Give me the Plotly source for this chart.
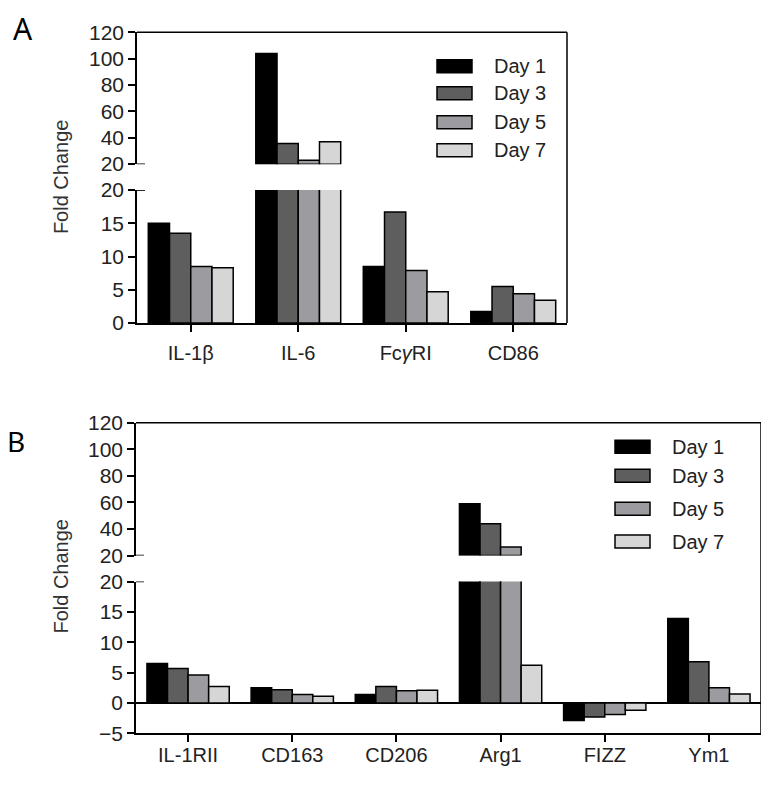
import plotly.graph_objects as go

# page body keeps an 8px margin, so the figure is drawn inside it
PAGE_W, PAGE_H, PAD = 769, 787, 8
W, H = PAGE_W - 2 * PAD, PAGE_H - 2 * PAD
# measured vertical mapping of the photographed page
Y_SCALE, Y_SHIFT = 0.9715, 12.9

days = ["Day 1", "Day 3", "Day 5", "Day 7"]
day_colors = ["#000000", "#5e5e5e", "#9c9ca0", "#d6d6d6"]

genes_a = ["IL-1β", "IL-6", "Fc<i>γ</i>RI", "CD86"]
day1_a = [15.0, 104.0, 8.5, 1.7]
day3_a = [13.5, 35.7, 16.7, 5.5]
day5_a = [8.5, 23.0, 7.9, 4.4]
day7_a = [8.3, 37.0, 4.7, 3.4]

genes_b = ["IL-1RII", "CD163", "CD206", "Arg1", "FIZZ", "Ym1"]
day1_b = [6.5, 2.5, 1.4, 59.0, -2.9, 13.9]
day3_b = [5.7, 2.2, 2.7, 44.0, -2.3, 6.8]
day5_b = [4.6, 1.4, 2.0, 26.5, -1.9, 2.5]
day7_b = [2.7, 1.1, 2.1, 6.2, -1.2, 1.5]

BREAK = 20


def px_x(p):
    return (p - PAD) / W


def px_y(p):
    q = (p - Y_SHIFT) / Y_SCALE - PAD
    return min(1, max(0, 1 - q / H))


FONT = "Arial"

# panel layout in target pixels: x span, upper segment, lower segment
panels = {
    "A": dict(x=(137, 567), up=(33, 165), low=(191, 324), xa="x", yu="y", yl="y2",
              genes=genes_a, series=[day1_a, day3_a, day5_a, day7_a],
              lowrange=[0, 20], lowticks=[0, 5, 10, 15, 20], standoff=4,
              leg_x=437, leg_rows=[67, 94, 123, 151], title_y=178, label=(23, 10, 30, 14)),
    "B": dict(x=(136, 761), up=(424, 557), low=(583, 735), xa="x2", yu="y3", yl="y4",
              genes=genes_b, series=[day1_b, day3_b, day5_b, day7_b],
              lowrange=[-5, 20], lowticks=[-5, 0, 5, 10, 15, 20], standoff=-4,
              leg_x=615, leg_rows=[448, 477, 510, 543], title_y=578, label=(16, 421, 28, 0)),
}

fig = go.Figure()

for name, p in panels.items():
    for day, col, vals in zip(days, day_colors, p["series"]):
        upper = [v if v > BREAK else None for v in vals]
        common = dict(name=day, marker=dict(color=col, line=dict(color="black", width=1.5)),
                      offsetgroup=day, alignmentgroup=name, showlegend=False, xaxis=p["xa"])
        fig.add_trace(go.Bar(x=p["genes"], y=[u - BREAK if u else None for u in upper],
                             base=BREAK, yaxis=p["yu"], **common))
        fig.add_trace(go.Bar(x=p["genes"], y=vals, yaxis=p["yl"], **common))

axis_common = dict(showline=True, linecolor="black", linewidth=1.5, ticks="outside",
                   ticklen=7, tickwidth=1.5, tickcolor="black", showgrid=False,
                   tickfont=dict(family=FONT, size=21, color="#222"), fixedrange=True)

layout = dict(width=W, height=H, margin=dict(l=0, r=0, t=0, b=0),
              paper_bgcolor="white", plot_bgcolor="white",
              barmode="group", bargap=0.21, bargroupgap=0, showlegend=False)

for name, p in panels.items():
    xk = "xaxis" if p["xa"] == "x" else "xaxis2"
    yuk = "yaxis" if p["yu"] == "y" else "yaxis" + p["yu"][1:]
    ylk = "yaxis" + p["yl"][1:]
    xd = [px_x(p["x"][0]), min(1, px_x(p["x"][1]))]
    layout[xk] = dict(domain=xd, anchor=p["yl"], type="category",
                      range=[-0.5, len(p["genes"]) - 0.5], ticklabelstandoff=p["standoff"],
                      **{**axis_common, "tickfont": dict(family=FONT, size=20, color="#222")})
    layout[yuk] = dict(domain=[px_y(p["up"][1]), px_y(p["up"][0])], anchor=p["xa"],
                       range=[20, 120], tickvals=[20, 40, 60, 80, 100, 120],
                       zeroline=False, **axis_common)
    layout[ylk] = dict(domain=[px_y(p["low"][1]), px_y(p["low"][0])], anchor=p["xa"],
                       range=p["lowrange"], tickvals=p["lowticks"],
                       zeroline=(p["lowrange"][0] < 0), zerolinecolor="black", zerolinewidth=1.5,
                       **axis_common)

fig.update_layout(**layout)

for name, p in panels.items():
    x0, x1 = px_x(p["x"][0]), min(1, px_x(p["x"][1]))
    top, bot = px_y(p["up"][0]), px_y(p["low"][1])
    # frame: top and right edges
    fig.add_shape(type="line", xref="paper", yref="paper", x0=x0, x1=x1, y0=top, y1=top,
                  line=dict(color="black", width=1.5))
    fig.add_shape(type="line", xref="paper", yref="paper", x0=x1, x1=x1, y0=top, y1=bot,
                  line=dict(color="black", width=1.5))
    # break marks crossing the axis
    for yref in (p["yu"], p["yl"]):
        fig.add_shape(type="line", xref=p["xa"] + " domain", yref=yref,
                      xsizemode="pixel", xanchor=0, x0=0, x1=8, y0=BREAK, y1=BREAK,
                      line=dict(color="black", width=1.5))
    # legend
    for day, col, row in zip(days, day_colors, p["leg_rows"]):
        fig.add_shape(type="rect", xref="paper", yref="paper",
                      x0=px_x(p["leg_x"]), x1=px_x(p["leg_x"] + 35),
                      y0=px_y(row + 6.5), y1=px_y(row - 6.5),
                      fillcolor=col, line=dict(color="black", width=1.5))
        fig.add_annotation(text=day, xref="paper", yref="paper", x=px_x(p["leg_x"] + 55),
                           y=px_y(row), xanchor="left", yanchor="middle", showarrow=False,
                           font=dict(family=FONT, size=20, color="#222"))
    # y title
    fig.add_annotation(text="Fold Change", xref="paper", yref="paper", x=px_x(61),
                       y=px_y(p["title_y"]), textangle=-90, showarrow=False,
                       xanchor="center", yanchor="middle",
                       font=dict(family=FONT, size=20, color="#333"))
    lx, ly, ls, shift = p["label"]
    fig.add_annotation(text=name, xref="paper", yref="paper", x=px_x(lx), y=px_y(ly),
                       showarrow=False, xanchor="center", yanchor="top", yshift=shift,
                       font=dict(family="Noto Sans, sans-serif", size=ls, color="black"))

fig.write_html("out.html")
